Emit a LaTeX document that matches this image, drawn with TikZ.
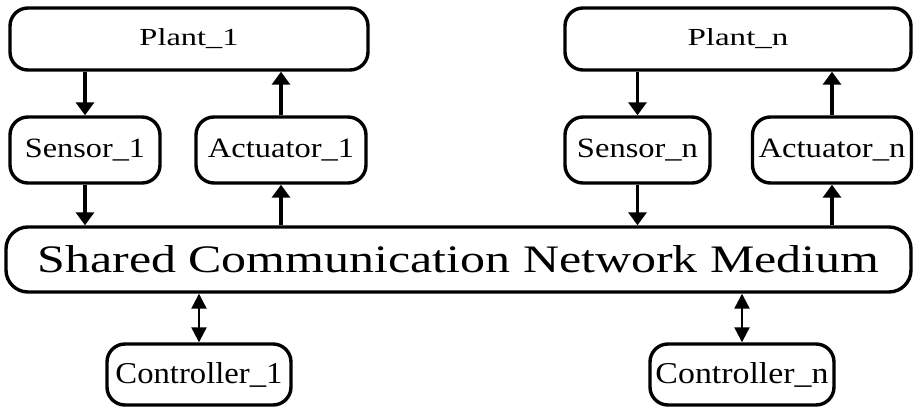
\documentclass[tikz,border=0pt]{standalone}
\usepackage{fontspec}
\setmainfont{Liberation Serif}
\usetikzlibrary{arrows.meta}
\newcommand{\fitt}[3]{\resizebox{#1pt}{#2pt}{#3}}
\begin{document}
\begin{tikzpicture}[x=1pt,y=-1pt,
  box/.style={draw,line width=3.4pt,rounded corners=18pt,inner sep=0pt,fill=white},
  arr/.style={line width=3.4pt,-{Triangle[length=13pt,width=18pt]}},
  bidir/.style={line width=2.2pt,{Triangle[length=15pt,width=15pt]}-{Triangle[length=15pt,width=15pt]}}]
\useasboundingbox (0,0) rectangle (914,412);
\node[box,minimum width=358pt,minimum height=62pt] (plant1) at (189,39) {\fitt{99}{17}{Plant\_1}};
\node[box,minimum width=346pt,minimum height=62pt] (plantn) at (738,39) {\fitt{101}{17}{Plant\_n}};
\node[box,minimum width=150pt,minimum height=66pt] (sens1) at (85,150) {\fitt{120}{18.5}{Sensor\_1}};
\node[box,minimum width=170pt,minimum height=66pt] (act1) at (281,150) {\fitt{146}{18.5}{Actuator\_1}};
\node[box,minimum width=145pt,minimum height=66pt] (sensn) at (637.5,150) {\fitt{121}{18.5}{Sensor\_n}};
\node[box,minimum width=159pt,minimum height=66pt] (actn) at (832,150) {\fitt{147}{18.5}{Actuator\_n}};
\node[box,minimum width=905pt,minimum height=65pt,rounded corners=22pt] (net) at (458.5,259.5) {\fitt{842}{27}{Shared Communication Network Medium}};
\node[box,minimum width=184pt,minimum height=61pt] (ctrl1) at (199,374.5) {\fitt{167}{21}{Controller\_1}};
\node[box,minimum width=184pt,minimum height=61pt] (ctrln) at (742,374.5) {\fitt{173}{21}{Controller\_n}};
\draw[arr] (plant1.south -| sens1.north) -- (sens1.north);
\draw[arr] (act1.north) -- (act1.north |- plant1.south);
\draw[arr] (sens1.south) -- (sens1.south |- net.north);
\draw[arr] (act1.south |- net.north) -- (act1.south);
\draw[arr] (plantn.south -| sensn.north) -- (sensn.north);
\draw[arr] (actn.north) -- (actn.north |- plantn.south);
\draw[arr] (sensn.south) -- (sensn.south |- net.north);
\draw[arr] (actn.south |- net.north) -- (actn.south);
\draw[bidir] (ctrl1.north |- net.south) -- (ctrl1.north);
\draw[bidir] (ctrln.north |- net.south) -- (ctrln.north);
\end{tikzpicture}
\end{document}
